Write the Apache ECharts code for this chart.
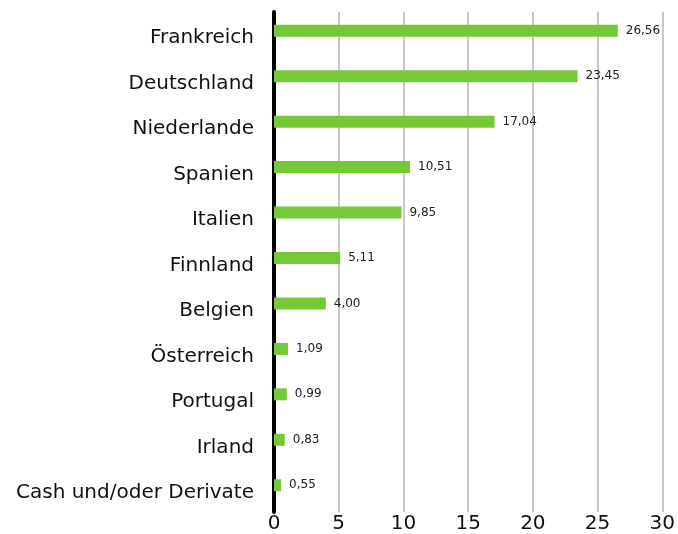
<!DOCTYPE html>
<html><head><meta charset="utf-8">
<script src="https://cdn.jsdelivr.net/npm/echarts@6/dist/echarts.min.js"></script>
<style>html,body{margin:0;padding:0;background:#fff}#c{width:678px;height:534px}</style>
</head><body><div id="c"></div>
<script>
const categories = ["Frankreich","Deutschland","Niederlande","Spanien","Italien","Finnland","Belgien","Österreich","Portugal","Irland","Cash und/oder Derivate"];
const values = [26.56,23.45,17.04,10.51,9.85,5.11,4.00,1.09,0.99,0.83,0.55];
const xTicks = [0,5,10,15,20,25,30];

const chart = echarts.init(document.getElementById('c'));
chart.setOption({
  animation:false,
  grid:{left:274,right:14,top:12,bottom:22,containLabel:false},
  xAxis:{type:'value',min:xTicks[0],max:xTicks[xTicks.length-1],interval:5,
    axisLine:{show:false},axisTick:{show:false},
    splitLine:{lineStyle:{color:'#c8c8c8',width:2}},
    axisLabel:{fontSize:20,color:'#111',fontFamily:'DejaVu Sans',margin:2}},
  yAxis:{type:'category',data:categories,inverse:true,
    axisLine:{lineStyle:{color:'#000',width:4}},axisTick:{show:false},
    axisLabel:{margin:20,formatter:v=>'{a|'+v+'}',
      rich:{a:{fontSize:20,color:'#111',fontFamily:'DejaVu Sans',padding:[7,0,0,0]}}}},
  series:[
    {type:'bar',data:values,barWidth:12,barGap:0,itemStyle:{color:'#76c936'},
     label:{show:true,position:'right',distance:8,fontSize:12,color:'#222',fontFamily:'DejaVu Sans',
       formatter:p=>p.value.toFixed(2).replace('.',',')}},
    {type:'bar',data:values,barWidth:8,itemStyle:{color:'rgba(0,0,0,0)'},silent:true}
  ]
});
</script></body></html>
